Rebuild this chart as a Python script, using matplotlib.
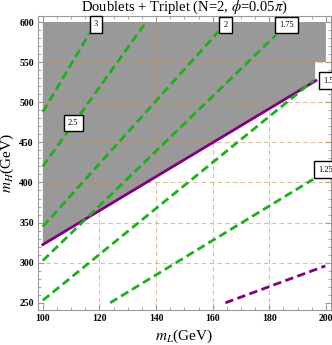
import matplotlib
matplotlib.use("Agg")
import matplotlib.pyplot as plt
from matplotlib.ticker import MultipleLocator

plt.rcParams["font.family"] = ["Liberation Serif", "DejaVu Serif"]
plt.rcParams["mathtext.fontset"] = "stix"

# contour lines: (mL, mH) end points
contour_labels = ["3", "2.5", "2", "1.75", "1.5", "1.25"]
contour_mL = [[100, 116.5], [100, 136.1], [100, 162.0], [100, 182.4], [100, 195.6], [123.8, 195.5]]
contour_mH = [[488, 586], [420, 598], [345, 588], [302.6, 584], [253, 527], [250, 404]]
label_mL = [118.8, 110.7, 164.5, 186.1, 200.8, 199.8]
label_mH = [597, 474, 596, 596, 527, 416]

# excluded (gray) region boundary
excl_mL = [100, 196.2, 196.2, 200, 200, 100]
excl_mH = [322.5, 527, 550, 550, 600, 600]

# purple solid boundary and purple dashed line
bound_mL = [100, 196.5]
bound_mH = [322.5, 527]
pdash_mL = [164.5, 199.8]
pdash_mH = [250, 296]

xticks = [100, 120, 140, 160, 180, 200]
yticks = [250, 300, 350, 400, 450, 500, 550, 600]

green = "#1cb01c"
purple = "#800080"

fig = plt.figure(figsize=(3.32, 3.45), dpi=100)
ax = fig.add_axes([0.1145, 0.1014, 0.8825, 0.8522])

ax.fill(excl_mL, excl_mH, color="#999999", lw=0, zorder=1)

# grid on top of the fill
for x in xticks[1:-1]:
    ax.axvline(x, color="#c99560", lw=0.8, ls=(0, (4, 3)), alpha=0.6, zorder=2)
for y in yticks[1:-1]:
    ax.axhline(y, color="#c99560", lw=0.8, ls=(0, (4, 3)), alpha=0.6, zorder=2)

ax.plot(bound_mL, bound_mH, color=purple, lw=2, zorder=3)
ax.plot(pdash_mL, pdash_mH, color=purple, lw=2, ls=(0, (3, 1.6)), zorder=3)

for xs, ys in zip(contour_mL, contour_mH):
    ax.plot(xs, ys, color=green, lw=2, ls=(0, (3, 1.6)), zorder=3)

for lab, x, y in zip(contour_labels, label_mL, label_mH):
    ax.text(x, y, lab, fontsize=6, ha="center", va="center", zorder=5, clip_on=False,
            bbox=dict(boxstyle="square,pad=0.5", fc="white", ec="black", lw=1))

ax.set_xlim(98.3, 201.8)
ax.set_ylim(241, 607.5)
ax.set_xticks(xticks)
ax.set_yticks(yticks)
ax.xaxis.set_minor_locator(MultipleLocator(5))
ax.yaxis.set_minor_locator(MultipleLocator(10))
ax.tick_params(which="both", direction="in", color="#999999", top=True, right=True,
               labelsize=7, pad=3)
ax.tick_params(which="major", length=4)
ax.tick_params(which="minor", length=2)
for lab in ax.get_xticklabels() + ax.get_yticklabels():
    lab.set_fontweight("bold")
for sp in ax.spines.values():
    sp.set_color("#999999")

ax.set_title(r"Doublets + Triplet (N=2, $\phi$=0.05$\pi$)", fontsize=10.5, pad=2)
ax.set_xlabel(r"$m_L$(GeV)", fontsize=11, labelpad=3)
ax.set_ylabel(r"$m_H$(GeV)", fontsize=11, labelpad=2)

fig.savefig("out.png", dpi=100)
